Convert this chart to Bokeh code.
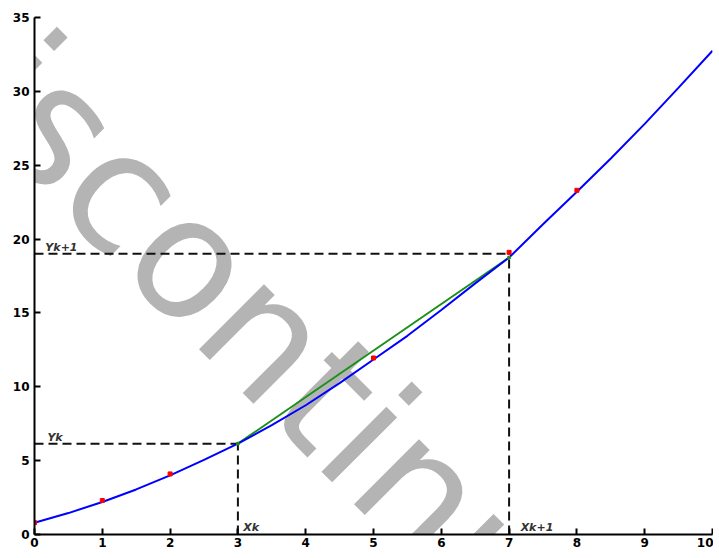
from bokeh.plotting import figure
from bokeh.models import Label, Range1d, FixedTicker
from bokeh.embed import file_html
from bokeh.resources import INLINE

# ---- data ----
curve_x = [0, 0.5, 1, 1.5, 2, 2.5, 3, 3.5, 4, 4.5, 5, 5.5, 6, 6.5, 7, 7.5, 8, 8.5, 9, 9.5, 10]
curve_y = [0.8, 1.45, 2.2, 3.05, 4.0, 5.05, 6.15, 7.4, 8.75, 10.25, 11.85, 13.45, 15.2, 17.0, 18.75, 21.0, 23.2, 25.45, 27.8, 30.25, 32.75]
pts_x = [0, 1, 2, 5, 7, 8]
pts_y = [0.8, 2.3, 4.1, 11.95, 19.1, 23.3]
chord_x = [3, 7]
chord_y = [6.15, 18.75]
xk, xk1 = 3, 7
yk, yk1 = 6.15, 19.0
x_ticks = [0, 1, 2, 3, 4, 5, 6, 7, 8, 9, 10]
y_ticks = [0, 5, 10, 15, 20, 25, 30, 35]

p = figure(width=713, height=551, output_backend="svg", toolbar_location=None,
           x_range=Range1d(0, 10), y_range=Range1d(0, 35),
           min_border_left=34, min_border_right=1, min_border_top=17, min_border_bottom=17)
p.grid.visible = False
p.outline_line_color = None
p.background_fill_color = "white"
p.border_fill_color = "white"

for ax in (p.xaxis[0], p.yaxis[0]):
    ax.axis_line_width = 2
    ax.axis_line_color = "black"
    ax.major_tick_in = 6
    ax.major_tick_out = 0
    ax.major_tick_line_width = 2
    ax.major_tick_line_color = "black"
    ax.minor_tick_line_color = None
    ax.major_label_text_font = "DejaVu Sans"
    ax.major_label_text_font_style = "bold"
    ax.major_label_text_font_size = "12px"
    ax.major_label_text_color = "black"
p.xaxis.ticker = FixedTicker(ticks=x_ticks)
p.yaxis.ticker = FixedTicker(ticks=y_ticks)
p.xaxis.major_label_standoff = 3
p.yaxis.major_label_standoff = 5

# watermark (underneath)
wm = Label(x=-1.91, y=38.0, text="Discontinued", angle=-45, angle_units="deg",
           text_font="DejaVu Sans", text_font_size="168px", text_color="#b4b4b4",
           text_align="left", text_baseline="alphabetic", level="underlay")
p.add_layout(wm)

dash = "9 5"
p.line([0, xk1], [yk1, yk1], line_color="#111111", line_width=2, line_dash=dash)
p.line([0, xk], [yk, yk], line_color="#111111", line_width=2, line_dash=dash)
p.line([xk, xk], [0, yk], line_color="#111111", line_width=2, line_dash=dash)
p.line([xk1, xk1], [0, yk1], line_color="#111111", line_width=2, line_dash=dash)

p.line(chord_x, chord_y, line_color="#1a8f1a", line_width=2)
p.line(curve_x, curve_y, line_color="#0000ff", line_width=2)
p.scatter(pts_x, pts_y, size=4, color="red", marker="square")
p.scatter(chord_x, chord_y, size=4, color="#1a8f1a", marker="x", line_width=2)

for txt, lx, ly in [("Yk", 0.19, 6.55), ("Yk+1", 0.16, 19.46), ("Xk", 3.08, 0.47), ("Xk+1", 7.17, 0.47)]:
    p.add_layout(Label(x=lx, y=ly, text=txt, text_font="DejaVu Sans", text_font_size="11px",
                       text_font_style="bold italic", text_color="#333333",
                       text_align="left", text_baseline="alphabetic"))

open("out.html", "w").write(file_html(p, INLINE))
